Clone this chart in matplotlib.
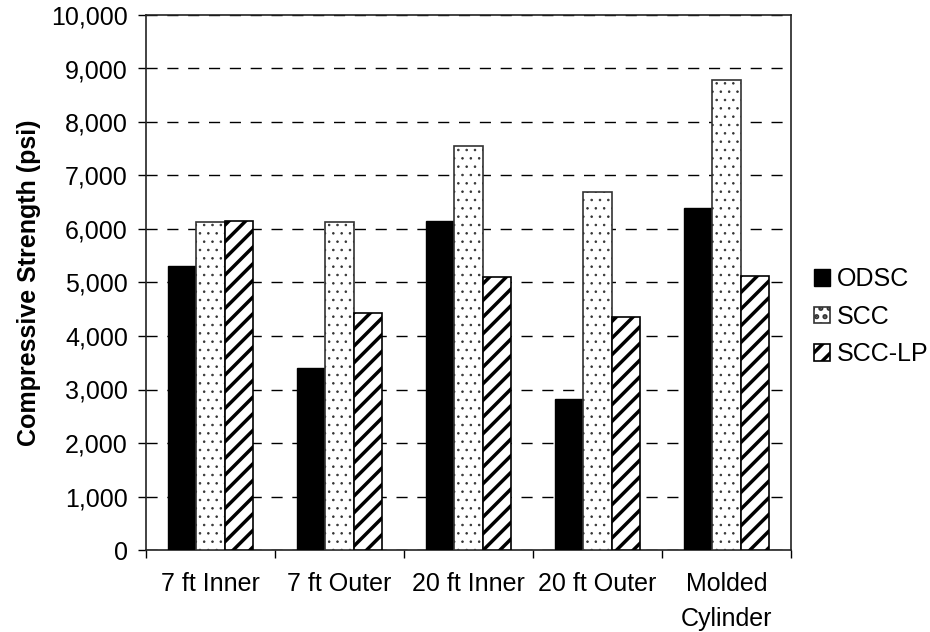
import matplotlib
matplotlib.use("Agg")
import matplotlib.pyplot as plt
import numpy as np
from matplotlib.ticker import FuncFormatter, MultipleLocator

categories = ["7 ft Inner", "7 ft Outer", "20 ft Inner", "20 ft Outer", "Molded\nCylinder"]
series_names = ["ODSC", "SCC", "SCC-LP"]
odsc = [5300, 3400, 6150, 2830, 6390]
scc = [6130, 6130, 7550, 6690, 8780]
scc_lp = [6150, 4430, 5100, 4350, 5130]

plt.rcParams['font.family'] = ['Liberation Sans', 'DejaVu Sans']

FS = 18
fig = plt.figure(figsize=(9.3, 6.32), dpi=100)
ax = fig.add_axes([146/930, (632-550)/632, (791-146)/930, (550-15)/632])

x = np.arange(len(categories))
w = 0.222

plt.rcParams['hatch.linewidth'] = 1.0
ax.bar(x - w, odsc, w, color='black', edgecolor='black', linewidth=1.0, label=series_names[0], zorder=3)

plt.rcParams['hatch.linewidth'] = 0.6
b2 = ax.bar(x, scc, w, color='white', edgecolor='#333333', linewidth=1.2, hatch='..',
            label=series_names[1], zorder=3)
for b in b2:
    if hasattr(b, 'set_hatch_linewidth'):
        b.set_hatch_linewidth(0.6)

plt.rcParams['hatch.linewidth'] = 2.5
b3 = ax.bar(x + w, scc_lp, w, color='white', edgecolor='black', linewidth=1.2, hatch='//',
            label=series_names[2], zorder=3)
for b in b3:
    if hasattr(b, 'set_hatch_linewidth'):
        b.set_hatch_linewidth(2.5)

ax.set_xlim(-0.5, len(categories) - 0.5)
ax.set_ylim(0, 10000)
ax.yaxis.set_major_locator(MultipleLocator(1000))
ax.yaxis.set_major_formatter(FuncFormatter(lambda v, p: f"{int(v):,}"))
ax.set_xticks(x)
ax.set_xticklabels(categories, fontsize=FS, linespacing=1.55)
ax.set_xticks(np.arange(len(categories) + 1) - 0.5, minor=True)
ax.tick_params(axis='x', which='major', length=0, pad=16)
ax.tick_params(axis='x', which='minor', length=6, width=1, direction='out')
ax.tick_params(axis='y', labelsize=FS, length=6, width=1, direction='out', pad=7)
ax.yaxis.grid(True, linestyle=(0, (8, 7)), color='black', linewidth=1.0, zorder=0)
ax.set_axisbelow(True)
for s in ax.spines.values():
    s.set_linewidth(1.2)
    s.set_color('#222222')
ax.set_ylabel("Compressive Strength (psi)", fontsize=FS, fontweight='bold', labelpad=7)

leg = ax.legend(loc='center left', bbox_to_anchor=(1.02, 0.436), frameon=False, fontsize=FS,
                handlelength=0.65, handleheight=0.65, handletextpad=0.25, labelspacing=0.55,
                borderaxespad=0)

fig.savefig("out.png", dpi=100)
